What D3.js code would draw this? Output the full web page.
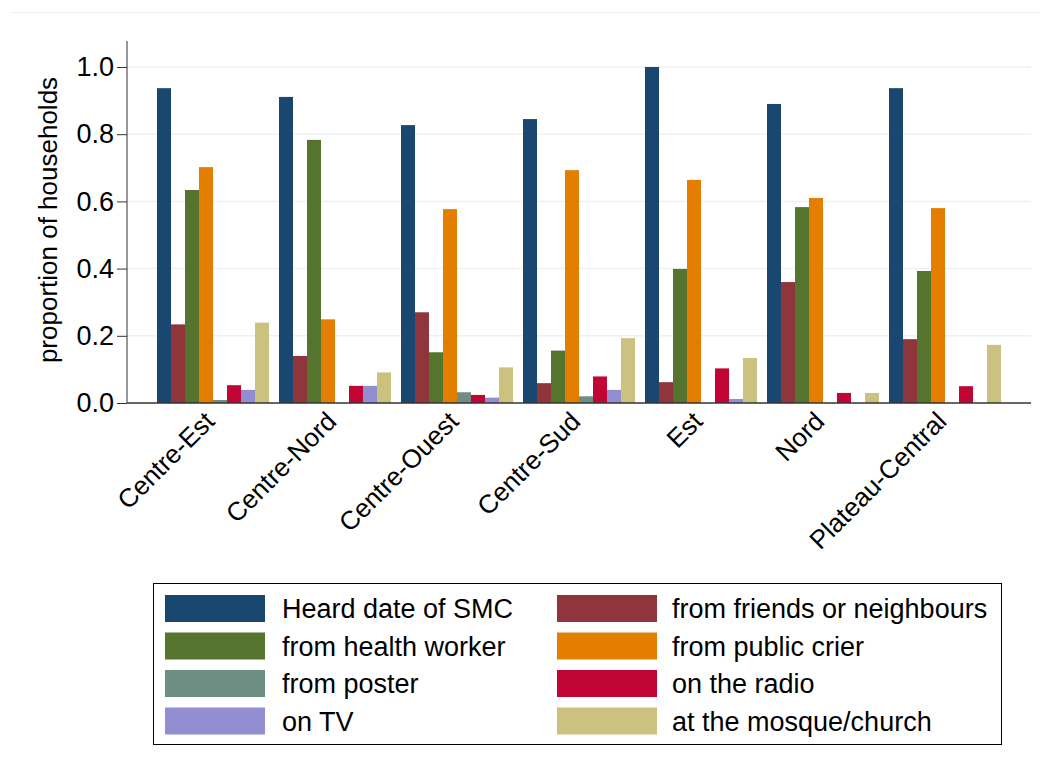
<!DOCTYPE html>
<html>
<head>
<meta charset="utf-8">
<script src="https://d3js.org/d3.v7.min.js"></script>
<style>
  body { margin: 0; background: #fff; font-family: "Liberation Sans", Arial, sans-serif; }
</style>
</head>
<body>
<script>
// regions on the x axis
var regions = ["Centre-Est", "Centre-Nord", "Centre-Ouest", "Centre-Sud", "Est", "Nord", "Plateau-Central"];

// series names (legend order)
var seriesNames = ["Heard date of SMC", "from friends or neighbours", "from health worker", "from public crier",
                   "from poster", "on the radio", "on TV", "at the mosque/church"];

// one array per series, values per region
var heardDate   = [0.937, 0.911, 0.827, 0.845, 1.000, 0.890, 0.937];
var friends     = [0.234, 0.140, 0.270, 0.059, 0.062, 0.360, 0.190];
var healthWork  = [0.634, 0.783, 0.151, 0.156, 0.399, 0.583, 0.393];
var publicCrier = [0.702, 0.249, 0.577, 0.693, 0.664, 0.610, 0.580];
var poster      = [0.009, 0.000, 0.032, 0.020, 0.000, 0.000, 0.000];
var radio       = [0.053, 0.051, 0.024, 0.079, 0.103, 0.030, 0.050];
var tv          = [0.039, 0.051, 0.016, 0.039, 0.012, 0.000, 0.000];
var mosque      = [0.239, 0.091, 0.106, 0.193, 0.134, 0.030, 0.173];

var yTicks = [0, 0.2, 0.4, 0.6, 0.8, 1.0];

var seriesValues = [heardDate, friends, healthWork, publicCrier, poster, radio, tv, mosque];
var colors = ["#1a476f", "#90353b", "#55752f", "#e37e00", "#6e8e84", "#c10534", "#938dd2", "#cac27e"];

// bar draw order inside a group
var barOrder = [0, 1, 2, 3, 4, 5, 6, 7];

var width = 1048, height = 772;
var plotLeft = 127, plotRight = 1031, plotTop = 41, plotBottom = 403;

var svg = d3.select("body").append("svg")
  .attr("width", width)
  .attr("height", height);

svg.append("rect").attr("width", width).attr("height", height).attr("fill", "#fff");

// faint outer line at the top
svg.append("line")
  .attr("x1", 10).attr("x2", 1040).attr("y1", 12.5).attr("y2", 12.5)
  .attr("stroke", "#eef2f4").attr("stroke-width", 1);

var x0 = d3.scaleBand()
  .domain(regions)
  .range([plotLeft, plotRight])
  .paddingInner(10 / 122)
  .paddingOuter(30 / 122);

var x1 = d3.scaleBand()
  .domain(barOrder)
  .range([0, x0.bandwidth()]);

var y = d3.scaleLinear()
  .domain([0, 1])
  .range([plotBottom, 67]);

// grid lines
svg.append("g")
  .selectAll("line")
  .data(yTicks.slice(1))
  .enter().append("line")
  .attr("x1", plotLeft).attr("x2", plotRight)
  .attr("y1", function(d) { return y(d); })
  .attr("y2", function(d) { return y(d); })
  .attr("stroke", "#eaf2f3")
  .attr("stroke-width", 1.5);

// bars
var groups = svg.append("g")
  .selectAll("g")
  .data(regions)
  .enter().append("g")
  .attr("transform", function(d) { return "translate(" + x0(d) + ",0)"; });

groups.selectAll("rect")
  .data(function(d, i) {
    return barOrder.map(function(s) { return { s: s, v: seriesValues[s][i] }; });
  })
  .enter().append("rect")
  .attr("x", function(d) { return x1(d.s); })
  .attr("width", x1.bandwidth())
  .attr("y", function(d) { return y(d.v); })
  .attr("height", function(d) { return y(0) - y(d.v); })
  .attr("fill", function(d) { return colors[d.s]; });

// y axis
var yAxis = svg.append("g")
  .attr("transform", "translate(" + plotLeft + ",0)")
  .call(d3.axisLeft(y).tickValues(yTicks).tickSize(10).tickPadding(3).tickFormat(d3.format(".1f")));
yAxis.select(".domain").attr("d", "M0," + plotTop + "V" + plotBottom).attr("stroke", "#333");
yAxis.selectAll(".tick line").attr("stroke", "#333");
yAxis.selectAll(".tick text")
  .attr("font-family", "Liberation Sans, Arial, sans-serif")
  .attr("font-size", 27).attr("fill", "#000");

// x axis
var xAxis = svg.append("g")
  .attr("transform", "translate(0," + plotBottom + ")")
  .call(d3.axisBottom(x0).tickSize(0).tickPadding(0));
xAxis.select(".domain").attr("d", "M" + plotLeft + ",0H" + plotRight).attr("stroke", "#333").attr("stroke-width", 1.5);
xAxis.selectAll(".tick text")
  .attr("font-family", "Liberation Sans, Arial, sans-serif")
  .attr("font-size", 26).attr("fill", "#000")
  .attr("text-anchor", "end")
  .attr("dy", null).attr("y", 0)
  .attr("transform", "translate(3,20) rotate(-45)");

// y axis title
svg.append("text")
  .attr("transform", "translate(57,220) rotate(-90)")
  .attr("text-anchor", "middle")
  .attr("font-size", 26)
  .attr("fill", "#000")
  .text("proportion of households");

// legend
var legend = svg.append("g");
legend.append("rect")
  .attr("x", 153.5).attr("y", 583.5).attr("width", 848).attr("height", 161)
  .attr("fill", "#fff").attr("stroke", "#000").attr("stroke-width", 1);

var items = legend.selectAll("g.item")
  .data(seriesNames)
  .enter().append("g")
  .attr("class", "item")
  .attr("transform", function(d, i) {
    return "translate(" + (i % 2 === 0 ? 165 : 557) + "," + (595 + Math.floor(i / 2) * 37.5) + ")";
  });

items.append("rect")
  .attr("width", 100).attr("height", 27)
  .attr("fill", function(d, i) { return colors[i]; });

items.append("text")
  .attr("x", function(d, i) { return i % 2 === 0 ? 117 : 115; })
  .attr("y", 23)
  .attr("font-size", 27)
  .attr("fill", "#000")
  .text(function(d) { return d; });
</script>
</body>
</html>
